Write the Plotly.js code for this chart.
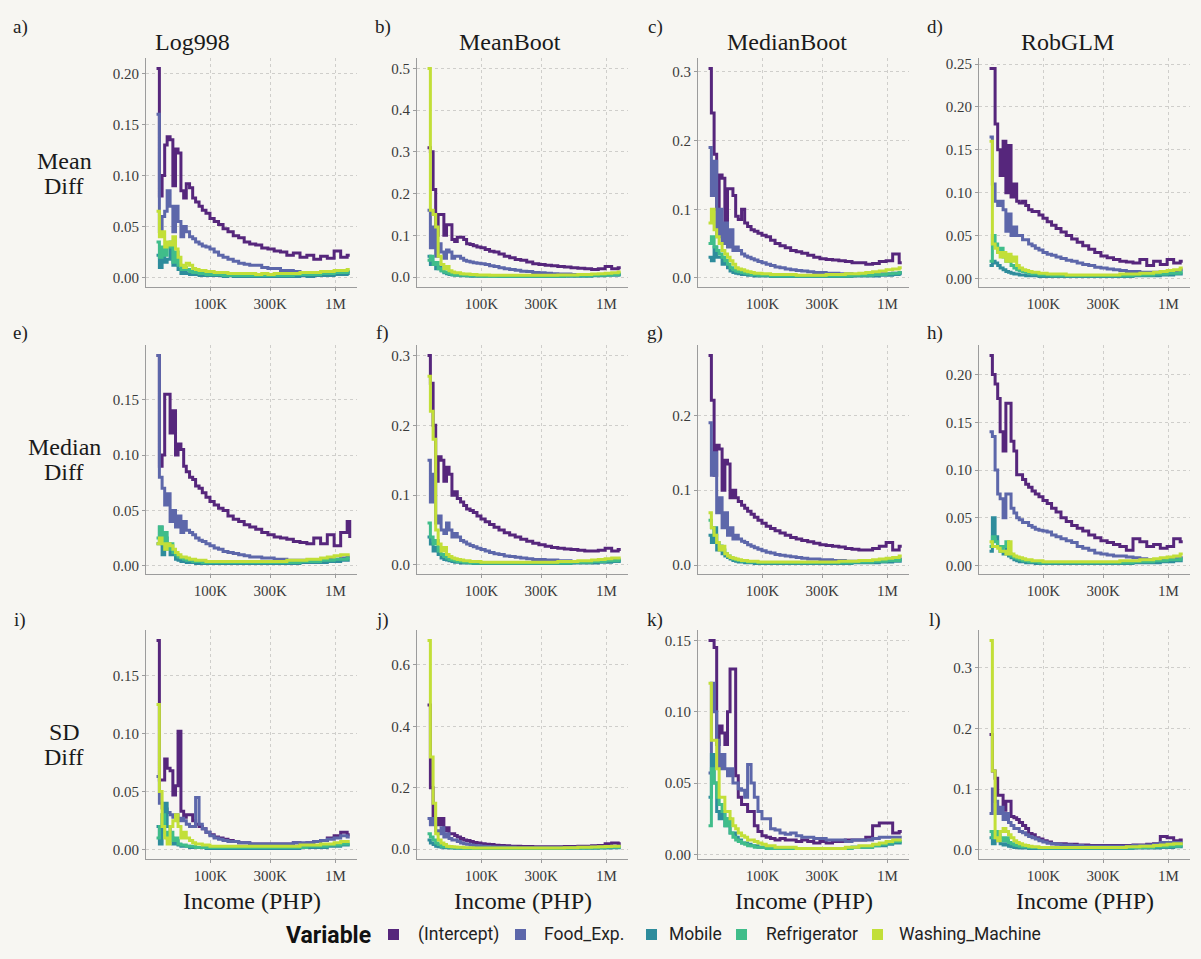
<!DOCTYPE html>
<html>
<head>
<meta charset="utf-8">
<script src="https://cdn.plot.ly/plotly-3.0.1.min.js"></script>
<style>html,body{margin:0;padding:0;background:#f7f6f2;}#chart{width:1201px;height:959px;}</style>
</head>
<body>
<div id="chart"></div>
<script>
// ---------------- DATA ----------------
const variables = ["(Intercept)", "Food_Exp.", "Mobile", "Refrigerator", "Washing_Machine"];
const methods = ["Log998", "MeanBoot", "MedianBoot", "RobGLM"];
const metrics = ["Mean Diff", "Median Diff", "SD Diff"];
const panelLetters = ["a)", "b)", "c)", "d)", "e)", "f)", "g)", "h)", "i)", "j)", "k)", "l)"];
const xTickVals = [100000, 300000, 1000000];
const xTickText = ["100K", "300K", "1M"];

// income bin edges (PHP); step lines hold each value until the next edge
const income = [37000, 39000, 41000, 43000, 45000, 47500, 50000, 52500, 55000, 58000,
  61000, 64000, 68000, 72000, 76000, 81000, 86000, 92000, 99000, 107000,
  116000, 126000, 138000, 152000, 168000, 186000, 206000, 230000, 257000, 288000,
  323000, 363000, 408000, 460000, 520000, 590000, 670000, 760000, 860000, 975000,
  1100000, 1240000, 1300000];

// each panel: [Intercept, Food_Exp., Mobile, Refrigerator, Washing_Machine]
const log998Mean = [
  [0.205,0.08,0.10,0.13,0.138,0.135,0.09,0.126,0.122,0.085, 0.078,0.092,0.088,0.078,0.074,0.07,0.066,0.063,0.058,0.055, 0.052,0.048,0.045,0.041,0.039,0.035,0.033,0.032,0.029,0.028, 0.026,0.025,0.022,0.024,0.02,0.022,0.018,0.021,0.019,0.026, 0.02,0.022,0.022],
  [0.16,0.045,0.06,0.065,0.085,0.07,0.045,0.07,0.055,0.04, 0.05,0.045,0.04,0.038,0.035,0.033,0.031,0.03,0.028,0.025, 0.022,0.02,0.018,0.016,0.014,0.013,0.012,0.012,0.01,0.009, 0.009,0.007,0.007,0.006,0.005,0.005,0.005,0.004,0.005,0.006, 0.005,0.006,0.006],
  [0.022,0.01,0.025,0.015,0.018,0.028,0.012,0.02,0.008,0.004, 0.005,0.004,0.003,0.003,0.003,0.002,0.002,0.002,0.002,0.002, 0.002,0.001,0.002,0.001,0.001,0.001,0.001,0.001,0.001,0.001, 0.001,0.001,0.001,0.001,0.002,0.001,0.002,0.002,0.002,0.003, 0.003,0.004,0.004],
  [0.035,0.02,0.03,0.022,0.03,0.035,0.015,0.025,0.012,0.008, 0.01,0.008,0.006,0.005,0.005,0.004,0.004,0.003,0.003,0.003, 0.003,0.002,0.002,0.002,0.002,0.002,0.002,0.002,0.002,0.002, 0.002,0.002,0.002,0.003,0.003,0.003,0.003,0.004,0.004,0.005, 0.005,0.006,0.006],
  [0.065,0.04,0.045,0.03,0.035,0.032,0.04,0.028,0.02,0.012, 0.01,0.014,0.012,0.009,0.008,0.007,0.007,0.006,0.006,0.005, 0.005,0.005,0.004,0.004,0.004,0.004,0.004,0.003,0.004,0.003, 0.004,0.004,0.004,0.004,0.005,0.005,0.005,0.006,0.006,0.007, 0.007,0.008,0.008]
];
const meanBootMean = [
  [0.31,0.3,0.21,0.1,0.15,0.15,0.1,0.125,0.125,0.09, 0.085,0.095,0.095,0.09,0.08,0.078,0.075,0.072,0.07,0.066, 0.062,0.06,0.055,0.05,0.046,0.042,0.04,0.036,0.032,0.03, 0.028,0.027,0.025,0.024,0.022,0.021,0.02,0.018,0.02,0.025, 0.02,0.022,0.022],
  [0.16,0.07,0.12,0.05,0.08,0.06,0.045,0.065,0.06,0.045, 0.05,0.05,0.045,0.04,0.038,0.036,0.034,0.033,0.032,0.03, 0.027,0.025,0.022,0.02,0.018,0.016,0.014,0.013,0.011,0.01, 0.009,0.008,0.007,0.007,0.006,0.006,0.005,0.005,0.005,0.006, 0.006,0.007,0.007],
  [0.05,0.03,0.035,0.02,0.025,0.015,0.01,0.008,0.006,0.005, 0.004,0.004,0.003,0.003,0.003,0.002,0.002,0.002,0.002,0.002, 0.002,0.002,0.001,0.001,0.001,0.001,0.001,0.001,0.001,0.001, 0.001,0.001,0.001,0.002,0.002,0.002,0.002,0.003,0.003,0.004, 0.004,0.005,0.005],
  [0.04,0.05,0.03,0.035,0.02,0.015,0.012,0.01,0.008,0.006, 0.005,0.005,0.004,0.004,0.003,0.003,0.003,0.003,0.002,0.002, 0.002,0.002,0.002,0.002,0.002,0.002,0.002,0.002,0.002,0.002, 0.002,0.002,0.002,0.003,0.003,0.003,0.003,0.004,0.004,0.005, 0.006,0.007,0.007],
  [0.5,0.16,0.15,0.12,0.05,0.03,0.02,0.025,0.015,0.012, 0.01,0.01,0.008,0.007,0.007,0.006,0.006,0.005,0.005,0.005, 0.004,0.004,0.004,0.004,0.004,0.004,0.004,0.004,0.004,0.004, 0.004,0.004,0.005,0.005,0.005,0.006,0.006,0.007,0.008,0.009, 0.01,0.012,0.012]
];
const medianBootMean = [
  [0.305,0.24,0.18,0.1,0.15,0.145,0.08,0.13,0.13,0.12, 0.09,0.085,0.1,0.08,0.075,0.07,0.068,0.065,0.062,0.06, 0.055,0.05,0.047,0.044,0.04,0.038,0.036,0.033,0.03,0.028, 0.027,0.026,0.025,0.024,0.022,0.022,0.02,0.021,0.024,0.025, 0.035,0.022,0.022],
  [0.19,0.12,0.17,0.06,0.1,0.05,0.08,0.045,0.07,0.04, 0.045,0.04,0.035,0.032,0.03,0.028,0.026,0.024,0.022,0.02, 0.018,0.016,0.015,0.013,0.012,0.011,0.01,0.009,0.008,0.008, 0.007,0.007,0.006,0.006,0.005,0.005,0.005,0.005,0.006,0.006, 0.007,0.008,0.008],
  [0.03,0.025,0.045,0.03,0.03,0.02,0.025,0.015,0.01,0.008, 0.007,0.006,0.005,0.005,0.004,0.004,0.003,0.003,0.003,0.003, 0.002,0.002,0.002,0.002,0.002,0.002,0.002,0.002,0.002,0.002, 0.002,0.002,0.002,0.002,0.003,0.003,0.003,0.003,0.004,0.004, 0.005,0.006,0.006],
  [0.05,0.06,0.045,0.04,0.035,0.03,0.025,0.02,0.015,0.012, 0.01,0.009,0.008,0.007,0.006,0.005,0.005,0.004,0.004,0.004, 0.003,0.003,0.003,0.003,0.003,0.003,0.003,0.003,0.003,0.003, 0.003,0.003,0.003,0.003,0.004,0.004,0.004,0.005,0.005,0.006, 0.007,0.008,0.008],
  [0.08,0.1,0.07,0.06,0.05,0.04,0.035,0.03,0.025,0.02, 0.015,0.013,0.012,0.01,0.009,0.008,0.007,0.007,0.006,0.006, 0.005,0.005,0.005,0.005,0.005,0.004,0.004,0.004,0.004,0.004, 0.005,0.005,0.005,0.006,0.006,0.007,0.008,0.009,0.01,0.012, 0.013,0.015,0.015]
];
const robGLMMean = [
  [0.245,0.245,0.18,0.15,0.12,0.16,0.1,0.155,0.095,0.11, 0.09,0.088,0.09,0.085,0.08,0.078,0.078,0.074,0.07,0.066, 0.062,0.058,0.054,0.05,0.046,0.042,0.038,0.034,0.03,0.026, 0.024,0.022,0.02,0.019,0.018,0.022,0.015,0.02,0.016,0.022, 0.018,0.02,0.02],
  [0.165,0.11,0.09,0.085,0.09,0.08,0.055,0.075,0.05,0.06, 0.05,0.05,0.045,0.045,0.04,0.038,0.035,0.033,0.03,0.028, 0.027,0.025,0.023,0.021,0.02,0.018,0.016,0.015,0.013,0.012, 0.011,0.01,0.009,0.008,0.008,0.007,0.007,0.007,0.008,0.008, 0.009,0.01,0.01],
  [0.015,0.02,0.018,0.015,0.012,0.01,0.008,0.007,0.006,0.005, 0.005,0.004,0.004,0.003,0.003,0.003,0.003,0.002,0.002,0.002, 0.002,0.002,0.002,0.002,0.002,0.002,0.002,0.002,0.002,0.002, 0.002,0.002,0.002,0.002,0.003,0.003,0.003,0.003,0.004,0.004, 0.005,0.005,0.005],
  [0.02,0.05,0.04,0.03,0.035,0.025,0.02,0.025,0.015,0.012, 0.01,0.009,0.008,0.007,0.006,0.005,0.005,0.004,0.004,0.004, 0.003,0.003,0.003,0.003,0.003,0.003,0.003,0.003,0.003,0.003, 0.003,0.003,0.003,0.003,0.004,0.004,0.004,0.005,0.005,0.006, 0.006,0.007,0.007],
  [0.16,0.04,0.035,0.03,0.025,0.03,0.02,0.028,0.02,0.025, 0.015,0.012,0.01,0.009,0.008,0.007,0.007,0.006,0.006,0.005, 0.005,0.005,0.005,0.004,0.004,0.004,0.004,0.004,0.004,0.004, 0.004,0.004,0.005,0.005,0.005,0.006,0.006,0.007,0.008,0.009, 0.01,0.012,0.012]
];
const log998Median = [
  [0.19,0.09,0.1,0.155,0.155,0.12,0.14,0.1,0.11,0.105, 0.09,0.085,0.08,0.078,0.072,0.07,0.066,0.062,0.058,0.055, 0.052,0.05,0.045,0.042,0.04,0.037,0.035,0.033,0.03,0.028, 0.026,0.025,0.024,0.022,0.021,0.02,0.025,0.02,0.028,0.018, 0.03,0.04,0.025],
  [0.19,0.08,0.07,0.055,0.065,0.04,0.05,0.035,0.045,0.03, 0.04,0.032,0.03,0.028,0.025,0.023,0.022,0.02,0.018,0.016, 0.015,0.013,0.012,0.011,0.01,0.009,0.008,0.008,0.007,0.007, 0.006,0.006,0.005,0.005,0.005,0.005,0.005,0.005,0.006,0.006, 0.007,0.008,0.008],
  [0.02,0.035,0.01,0.025,0.02,0.01,0.012,0.006,0.005,0.004, 0.004,0.003,0.003,0.003,0.002,0.002,0.002,0.002,0.002,0.002, 0.002,0.002,0.002,0.002,0.002,0.002,0.002,0.002,0.002,0.002, 0.002,0.002,0.002,0.002,0.003,0.003,0.003,0.003,0.004,0.004, 0.005,0.005,0.005],
  [0.025,0.035,0.02,0.03,0.015,0.02,0.012,0.01,0.008,0.007, 0.006,0.005,0.005,0.004,0.004,0.004,0.003,0.003,0.003,0.003, 0.003,0.003,0.003,0.003,0.003,0.003,0.003,0.003,0.003,0.003, 0.003,0.003,0.003,0.003,0.004,0.004,0.004,0.005,0.005,0.006, 0.006,0.007,0.007],
  [0.02,0.025,0.02,0.015,0.02,0.018,0.015,0.012,0.01,0.008, 0.008,0.007,0.006,0.006,0.005,0.005,0.005,0.004,0.004,0.004, 0.004,0.004,0.004,0.004,0.004,0.004,0.004,0.004,0.004,0.004, 0.004,0.004,0.005,0.005,0.005,0.006,0.006,0.007,0.008,0.009, 0.01,0.01,0.01]
];
const meanBootMedian = [
  [0.3,0.26,0.2,0.12,0.155,0.15,0.12,0.14,0.13,0.1, 0.105,0.095,0.09,0.085,0.08,0.078,0.075,0.07,0.066,0.062, 0.058,0.054,0.05,0.046,0.043,0.04,0.037,0.034,0.031,0.029, 0.027,0.025,0.024,0.023,0.022,0.021,0.02,0.02,0.021,0.024, 0.02,0.022,0.022],
  [0.15,0.09,0.13,0.06,0.07,0.05,0.045,0.06,0.05,0.04, 0.045,0.04,0.035,0.033,0.03,0.028,0.026,0.024,0.022,0.02, 0.018,0.016,0.015,0.013,0.012,0.011,0.01,0.009,0.008,0.008, 0.007,0.007,0.006,0.006,0.005,0.005,0.005,0.005,0.006,0.006, 0.007,0.007,0.007],
  [0.04,0.03,0.02,0.025,0.015,0.01,0.008,0.007,0.006,0.005, 0.004,0.004,0.003,0.003,0.003,0.003,0.002,0.002,0.002,0.002, 0.002,0.002,0.002,0.002,0.002,0.002,0.002,0.002,0.002,0.002, 0.002,0.002,0.002,0.002,0.003,0.003,0.003,0.003,0.004,0.004, 0.005,0.005,0.005],
  [0.06,0.04,0.03,0.035,0.02,0.015,0.012,0.01,0.008,0.007, 0.006,0.005,0.005,0.004,0.004,0.003,0.003,0.003,0.003,0.003, 0.003,0.003,0.003,0.003,0.003,0.003,0.003,0.003,0.003,0.003, 0.003,0.003,0.003,0.003,0.004,0.004,0.004,0.005,0.005,0.006, 0.006,0.007,0.007],
  [0.27,0.22,0.18,0.05,0.03,0.02,0.025,0.015,0.012,0.01, 0.009,0.008,0.007,0.006,0.006,0.005,0.005,0.005,0.004,0.004, 0.004,0.004,0.004,0.004,0.004,0.004,0.004,0.004,0.004,0.004, 0.004,0.004,0.005,0.005,0.005,0.006,0.006,0.007,0.008,0.009, 0.01,0.01,0.01]
];
const medianBootMedian = [
  [0.28,0.22,0.12,0.16,0.155,0.1,0.14,0.135,0.09,0.1, 0.09,0.085,0.08,0.076,0.072,0.068,0.064,0.06,0.056,0.052, 0.049,0.046,0.043,0.04,0.037,0.035,0.033,0.031,0.029,0.027, 0.026,0.025,0.024,0.022,0.021,0.02,0.02,0.022,0.025,0.03, 0.02,0.025,0.025],
  [0.19,0.12,0.15,0.07,0.09,0.05,0.07,0.04,0.05,0.035, 0.04,0.035,0.032,0.03,0.027,0.025,0.023,0.021,0.019,0.017, 0.016,0.014,0.013,0.012,0.011,0.01,0.009,0.008,0.008,0.007, 0.007,0.006,0.006,0.005,0.005,0.005,0.005,0.005,0.006,0.006, 0.007,0.008,0.008],
  [0.04,0.03,0.05,0.02,0.025,0.015,0.012,0.01,0.008,0.006, 0.005,0.004,0.004,0.003,0.003,0.003,0.002,0.002,0.002,0.002, 0.002,0.002,0.002,0.002,0.002,0.002,0.002,0.002,0.002,0.002, 0.002,0.002,0.002,0.002,0.003,0.003,0.003,0.003,0.004,0.004, 0.005,0.005,0.005],
  [0.06,0.05,0.04,0.03,0.025,0.02,0.015,0.012,0.01,0.008, 0.007,0.006,0.005,0.005,0.004,0.004,0.004,0.003,0.003,0.003, 0.003,0.003,0.003,0.003,0.003,0.003,0.003,0.003,0.003,0.003, 0.003,0.003,0.003,0.003,0.004,0.004,0.004,0.005,0.005,0.006, 0.006,0.007,0.007],
  [0.07,0.05,0.04,0.03,0.02,0.025,0.015,0.012,0.01,0.009, 0.008,0.007,0.006,0.006,0.005,0.005,0.005,0.004,0.004,0.004, 0.004,0.004,0.004,0.004,0.004,0.004,0.004,0.004,0.004,0.004, 0.004,0.004,0.005,0.005,0.005,0.006,0.006,0.007,0.008,0.009, 0.01,0.012,0.012]
];
const robGLMMedian = [
  [0.22,0.2,0.19,0.175,0.14,0.12,0.17,0.17,0.13,0.12, 0.095,0.095,0.09,0.085,0.082,0.078,0.075,0.072,0.068,0.065, 0.06,0.056,0.05,0.046,0.042,0.039,0.036,0.032,0.029,0.026, 0.024,0.022,0.02,0.016,0.028,0.025,0.02,0.022,0.018,0.02, 0.028,0.025,0.025],
  [0.14,0.135,0.1,0.075,0.07,0.05,0.075,0.075,0.06,0.055, 0.05,0.048,0.045,0.045,0.042,0.04,0.038,0.037,0.036,0.035, 0.032,0.03,0.028,0.026,0.024,0.02,0.018,0.016,0.013,0.012, 0.011,0.01,0.01,0.009,0.008,0.007,0.006,0.006,0.006,0.007, 0.007,0.008,0.008],
  [0.015,0.05,0.03,0.02,0.015,0.012,0.02,0.01,0.008,0.006, 0.005,0.004,0.004,0.003,0.003,0.003,0.002,0.002,0.002,0.002, 0.002,0.002,0.002,0.002,0.002,0.002,0.002,0.002,0.002,0.002, 0.002,0.002,0.002,0.002,0.003,0.003,0.003,0.003,0.004,0.004, 0.005,0.005,0.005],
  [0.02,0.03,0.025,0.02,0.015,0.02,0.025,0.012,0.01,0.008, 0.007,0.006,0.005,0.005,0.004,0.004,0.004,0.003,0.003,0.003, 0.003,0.003,0.003,0.003,0.003,0.003,0.003,0.003,0.003,0.003, 0.003,0.003,0.003,0.003,0.004,0.004,0.004,0.005,0.005,0.006, 0.006,0.007,0.007],
  [0.025,0.02,0.02,0.018,0.015,0.015,0.012,0.025,0.012,0.01, 0.009,0.008,0.007,0.006,0.006,0.005,0.005,0.005,0.004,0.004, 0.004,0.004,0.004,0.004,0.004,0.004,0.004,0.004,0.004,0.004, 0.004,0.004,0.005,0.005,0.005,0.006,0.006,0.007,0.008,0.009, 0.01,0.012,0.012]
];
const log998SD = [
  [0.18,0.06,0.06,0.078,0.07,0.068,0.047,0.055,0.102,0.033, 0.028,0.03,0.03,0.025,0.022,0.02,0.018,0.015,0.013,0.011, 0.01,0.009,0.008,0.007,0.006,0.006,0.005,0.005,0.005,0.005, 0.005,0.005,0.005,0.006,0.005,0.006,0.007,0.008,0.01,0.012, 0.015,0.013,0.013],
  [0.063,0.04,0.036,0.035,0.032,0.03,0.028,0.03,0.025,0.027, 0.025,0.022,0.02,0.02,0.045,0.022,0.018,0.015,0.012,0.01, 0.009,0.008,0.007,0.007,0.006,0.006,0.005,0.005,0.005,0.005, 0.005,0.005,0.005,0.006,0.006,0.006,0.007,0.008,0.009,0.01, 0.012,0.011,0.011],
  [0.02,0.005,0.03,0.04,0.02,0.01,0.005,0.008,0.004,0.003, 0.003,0.003,0.002,0.002,0.002,0.002,0.002,0.001,0.001,0.001, 0.001,0.001,0.001,0.001,0.001,0.001,0.001,0.001,0.001,0.001, 0.001,0.001,0.001,0.001,0.002,0.002,0.002,0.002,0.003,0.003, 0.004,0.004,0.004],
  [0.01,0.02,0.03,0.015,0.01,0.015,0.008,0.01,0.005,0.004, 0.004,0.003,0.003,0.003,0.002,0.002,0.002,0.002,0.002,0.002, 0.002,0.002,0.002,0.002,0.002,0.002,0.002,0.002,0.002,0.002, 0.002,0.002,0.002,0.002,0.002,0.003,0.003,0.003,0.004,0.004, 0.005,0.005,0.005],
  [0.125,0.05,0.02,0.01,0.005,0.02,0.025,0.03,0.02,0.01, 0.015,0.01,0.008,0.006,0.005,0.005,0.004,0.004,0.003,0.003, 0.003,0.003,0.003,0.003,0.003,0.003,0.003,0.003,0.003,0.003, 0.003,0.003,0.003,0.003,0.004,0.004,0.004,0.005,0.005,0.006, 0.007,0.007,0.007]
];
const meanBootSD = [
  [0.47,0.2,0.1,0.1,0.08,0.1,0.06,0.07,0.05,0.05, 0.045,0.04,0.035,0.03,0.028,0.025,0.022,0.02,0.018,0.016, 0.015,0.013,0.012,0.011,0.01,0.01,0.009,0.009,0.008,0.008, 0.008,0.008,0.008,0.009,0.009,0.01,0.01,0.011,0.012,0.018, 0.02,0.018,0.018],
  [0.1,0.08,0.1,0.06,0.05,0.07,0.04,0.05,0.035,0.03, 0.03,0.025,0.02,0.018,0.016,0.014,0.012,0.011,0.01,0.009, 0.008,0.007,0.007,0.006,0.006,0.005,0.005,0.005,0.005,0.005, 0.005,0.005,0.005,0.005,0.005,0.006,0.006,0.007,0.008,0.009, 0.01,0.01,0.01],
  [0.03,0.02,0.015,0.01,0.008,0.006,0.005,0.005,0.004,0.004, 0.003,0.003,0.003,0.002,0.002,0.002,0.002,0.002,0.002,0.002, 0.002,0.002,0.002,0.002,0.002,0.002,0.002,0.002,0.002,0.002, 0.002,0.002,0.002,0.002,0.003,0.003,0.003,0.003,0.004,0.004, 0.005,0.005,0.005],
  [0.05,0.04,0.03,0.02,0.015,0.01,0.008,0.007,0.006,0.005, 0.005,0.004,0.004,0.003,0.003,0.003,0.003,0.003,0.003,0.003, 0.003,0.003,0.003,0.003,0.003,0.003,0.003,0.003,0.003,0.003, 0.003,0.003,0.003,0.003,0.004,0.004,0.004,0.005,0.005,0.006, 0.006,0.007,0.007],
  [0.68,0.3,0.15,0.05,0.03,0.02,0.015,0.01,0.009,0.008, 0.007,0.006,0.006,0.005,0.005,0.005,0.004,0.004,0.004,0.004, 0.004,0.004,0.004,0.004,0.004,0.004,0.004,0.004,0.004,0.004, 0.004,0.004,0.004,0.005,0.005,0.006,0.006,0.007,0.008,0.009, 0.01,0.01,0.01]
];
const medianBootSD = [
  [0.15,0.15,0.145,0.077,0.09,0.085,0.077,0.1,0.13,0.13, 0.055,0.04,0.035,0.035,0.03,0.03,0.02,0.016,0.013,0.012, 0.011,0.01,0.011,0.01,0.01,0.009,0.01,0.009,0.008,0.009, 0.008,0.009,0.009,0.01,0.01,0.01,0.012,0.02,0.022,0.022, 0.015,0.016,0.016],
  [0.057,0.12,0.1,0.08,0.06,0.07,0.06,0.055,0.06,0.05, 0.05,0.046,0.045,0.04,0.063,0.05,0.04,0.03,0.025,0.025, 0.018,0.017,0.015,0.014,0.015,0.013,0.012,0.012,0.011,0.011, 0.01,0.01,0.01,0.009,0.01,0.01,0.01,0.011,0.012,0.012, 0.012,0.012,0.012],
  [0.04,0.07,0.05,0.03,0.025,0.03,0.02,0.025,0.015,0.015, 0.012,0.01,0.008,0.008,0.007,0.006,0.006,0.005,0.005,0.005, 0.004,0.004,0.004,0.004,0.004,0.004,0.004,0.004,0.004,0.004, 0.004,0.004,0.004,0.004,0.005,0.005,0.005,0.006,0.006,0.007, 0.008,0.008,0.008],
  [0.02,0.06,0.05,0.04,0.035,0.03,0.02,0.025,0.015,0.012, 0.01,0.009,0.008,0.007,0.006,0.006,0.005,0.005,0.005,0.004, 0.004,0.004,0.004,0.004,0.004,0.004,0.004,0.004,0.004,0.004, 0.004,0.004,0.004,0.004,0.005,0.005,0.005,0.006,0.007,0.008, 0.009,0.009,0.009],
  [0.12,0.08,0.08,0.06,0.04,0.04,0.03,0.03,0.025,0.02, 0.018,0.015,0.013,0.012,0.01,0.01,0.009,0.008,0.007,0.006, 0.006,0.005,0.005,0.005,0.005,0.004,0.004,0.004,0.004,0.004, 0.004,0.004,0.004,0.005,0.005,0.006,0.006,0.007,0.008,0.009, 0.01,0.01,0.01]
];
const robGLMSD = [
  [0.19,0.13,0.118,0.09,0.09,0.065,0.08,0.08,0.055,0.053, 0.05,0.045,0.04,0.035,0.027,0.025,0.02,0.018,0.015,0.013, 0.01,0.01,0.01,0.009,0.009,0.008,0.008,0.007,0.007,0.007, 0.007,0.007,0.007,0.007,0.008,0.008,0.009,0.01,0.022,0.02, 0.015,0.016,0.016],
  [0.06,0.1,0.08,0.06,0.07,0.05,0.06,0.045,0.04,0.035, 0.035,0.03,0.028,0.025,0.022,0.02,0.018,0.015,0.013,0.011, 0.01,0.009,0.008,0.008,0.007,0.007,0.006,0.006,0.006,0.006, 0.006,0.006,0.006,0.006,0.007,0.007,0.008,0.009,0.012,0.012, 0.012,0.012,0.012],
  [0.02,0.01,0.02,0.015,0.01,0.008,0.01,0.006,0.005,0.004, 0.004,0.003,0.003,0.003,0.002,0.002,0.002,0.002,0.002,0.002, 0.002,0.002,0.002,0.002,0.002,0.002,0.002,0.002,0.002,0.002, 0.002,0.002,0.002,0.002,0.003,0.003,0.003,0.003,0.004,0.004, 0.005,0.005,0.005],
  [0.03,0.02,0.03,0.025,0.02,0.015,0.02,0.012,0.01,0.008, 0.007,0.006,0.005,0.005,0.004,0.004,0.004,0.003,0.003,0.003, 0.003,0.003,0.003,0.003,0.003,0.003,0.003,0.003,0.003,0.003, 0.003,0.003,0.003,0.003,0.004,0.004,0.004,0.005,0.005,0.006, 0.006,0.007,0.007],
  [0.345,0.13,0.02,0.015,0.03,0.035,0.03,0.025,0.02,0.015, 0.012,0.01,0.008,0.007,0.006,0.005,0.005,0.004,0.004,0.004, 0.004,0.004,0.004,0.004,0.004,0.004,0.004,0.004,0.004,0.004, 0.004,0.004,0.004,0.005,0.005,0.006,0.006,0.007,0.008,0.009, 0.01,0.01,0.01]
];

// ---------------- LAYOUT / STYLE ----------------
const W = 1201, H = 959;
const BG = '#f7f6f2';
const seriesColors = ['#56267c', '#5d67aa', '#2e8c9c', '#40bd8a', '#c2df38'];
const serif = 'Liberation Serif, DejaVu Serif, serif';
const sans = 'Roboto, Liberation Sans, sans-serif';

const panelData = [log998Mean, meanBootMean, medianBootMean, robGLMMean,
                   log998Median, meanBootMedian, medianBootMedian, robGLMMedian,
                   log998SD, meanBootSD, medianBootSD, robGLMSD];
const panelDtick = [0.05, 0.1, 0.1, 0.05, 0.05, 0.1, 0.1, 0.05, 0.05, 0.2, 0.05, 0.1];

const colLeft = [146, 417, 698, 979];
const colWidth = 211;
const rowTop = [58, 345, 630];
const rowHeight = 229;

const fx = p => p / W;
const fy = p => 1 - p / H;

const traces = [];
const layout = {
  width: W, height: H, autosize: false,
  margin: {l: 0, r: 0, t: 0, b: 0, pad: 0},
  paper_bgcolor: BG, plot_bgcolor: BG,
  showlegend: false,
  font: {family: serif, color: '#333'},
  annotations: [], shapes: []
};

const gridColor = '#cfcecb';
const lineColor = '#9c9c9c';

panelData.forEach((series, i) => {
  const k = i + 1;
  const col = i % 4, row = Math.floor(i / 4);
  series.forEach((ys, s) => {
    traces.push({
      x: income, y: ys, type: 'scatter', mode: 'lines',
      line: {shape: 'hv', color: seriesColors[s], width: 3},
      xaxis: 'x' + k, yaxis: 'y' + k, hoverinfo: 'skip', showlegend: false
    });
  });
  let mx = -Infinity, mn = Infinity;
  series.forEach(ys => ys.forEach(v => { mx = Math.max(mx, v); mn = Math.min(mn, v); }));
  const span = mx - mn;
  const dt = panelDtick[i];
  const common = {
    showgrid: true, gridcolor: gridColor, griddash: '3px,3px', gridwidth: 1,
    showline: true, linecolor: lineColor, linewidth: 1,
    ticks: 'outside', ticklen: 3, tickcolor: lineColor,
    tickfont: {family: serif, size: 15, color: '#3a3a3a'},
    zeroline: false, fixedrange: true
  };
  layout['xaxis' + k] = Object.assign({}, common, {
    domain: [fx(colLeft[col]), fx(colLeft[col] + colWidth)],
    anchor: 'y' + k, type: 'log', range: [4.484, 6.172],
    tickmode: 'array', tickvals: xTickVals, ticktext: xTickText
  });
  layout['yaxis' + k] = Object.assign({}, common, {
    domain: [fy(rowTop[row] + rowHeight), fy(rowTop[row])],
    anchor: 'x' + k, range: [mn - 0.05 * span, mx + 0.05 * span],
    tick0: 0, dtick: dt, tickformat: dt < 0.1 ? '.2f' : '.1f'
  });
  // panel letter
  layout.annotations.push({
    text: panelLetters[i], xref: 'paper', yref: 'paper',
    x: fx([20, 383, 655, 935][col]), y: fy([27, 333, 620][row]),
    xanchor: 'center', yanchor: 'middle', showarrow: false,
    font: {family: serif, size: 19, color: '#222'}
  });
});

// column titles
[192, 510, 787, 1067].forEach((cx, c) => {
  layout.annotations.push({
    text: methods[c], xref: 'paper', yref: 'paper', x: fx(cx), y: fy(42),
    xanchor: 'center', yanchor: 'middle', showarrow: false,
    font: {family: serif, size: 24, color: '#1a1a1a'}
  });
});
// row labels (two lines each)
[[161, 186], [447, 472], [732, 757]].forEach((ys, r) => {
  const parts = metrics[r].split(' ');
  parts.forEach((p, j) => {
    layout.annotations.push({
      text: p, xref: 'paper', yref: 'paper', x: fx(64), y: fy(ys[j]),
      xanchor: 'center', yanchor: 'middle', showarrow: false,
      font: {family: serif, size: 24, color: '#1a1a1a'}
    });
  });
});
// x axis titles
colLeft.forEach(cl => {
  layout.annotations.push({
    text: 'Income (PHP)', xref: 'paper', yref: 'paper', x: fx(cl + colWidth / 2), y: fy(901),
    xanchor: 'center', yanchor: 'middle', showarrow: false,
    font: {family: serif, size: 24, color: '#1a1a1a'}
  });
});
// legend
layout.annotations.push({
  text: '<b>Variable</b>', xref: 'paper', yref: 'paper', x: fx(284), y: fy(935),
  xanchor: 'left', yanchor: 'middle', showarrow: false,
  font: {family: sans, size: 23, color: '#111'}
});
const keyX = [388, 515, 646, 736, 872];
const textX = [416, 542, 667, 764, 897];
variables.forEach((v, s) => {
  layout.shapes.push({
    type: 'rect', xref: 'paper', yref: 'paper',
    x0: fx(keyX[s]), x1: fx(keyX[s] + 11), y0: fy(940), y1: fy(929),
    fillcolor: seriesColors[s], line: {width: 0}
  });
  layout.annotations.push({
    text: v, xref: 'paper', yref: 'paper', x: fx(textX[s]), y: fy(934),
    xanchor: 'left', yanchor: 'middle', showarrow: false,
    font: {family: sans, size: 17.5, color: '#222'}
  });
});

Plotly.newPlot('chart', traces, layout, {staticPlot: true, displayModeBar: false});
</script>
</body>
</html>
